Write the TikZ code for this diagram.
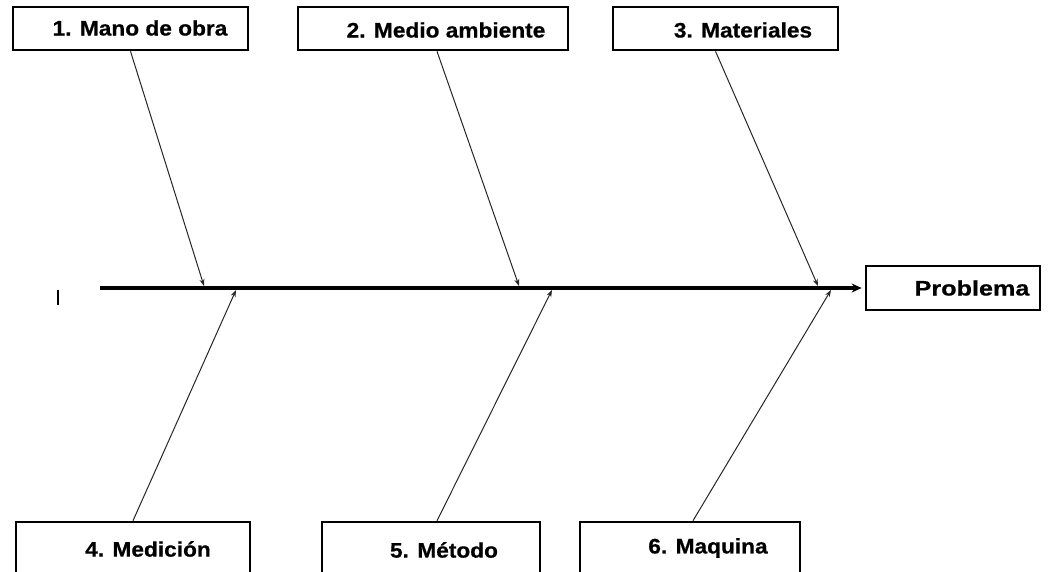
\documentclass[tikz,border=0pt]{standalone}
\usepackage{fontspec}
\setmainfont{Liberation Sans}[BoldFont={Liberation Sans Bold}, BoldFeatures={FakeBold=0.6}]
\usetikzlibrary{arrows.meta,calc}
\newcommand{\lbltext}[2][1.08]{\scalebox{#1}[1]{\bfseries #2}}
\tikzset{
  causebox/.style={draw=black, line width=2.6pt, rectangle, inner sep=0pt},
  lbl/.style={inner sep=0pt, font=\fontsize{21}{24}\selectfont},
  bone/.style={draw=black!85, line width=1pt, -{Stealth[length=7pt,width=5pt]}},
  spine/.style={draw=black, line width=3.2pt, -{Stealth[length=10pt,width=9pt]}}
}
\begin{document}
\begin{tikzpicture}[x=1pt,y=-1pt]
  \useasboundingbox (0,0) rectangle (1052,571);
  \clip (0,0) rectangle (1052,571);
  % cause boxes, top row
  \node[causebox, minimum width=235pt, minimum height=43pt] (b1) at (130.5,28.5) {};
  \node[causebox, minimum width=270pt, minimum height=43pt] (b2) at (433,28.5) {};
  \node[causebox, minimum width=225pt, minimum height=43pt] (b3) at (725.5,28.5) {};
  % cause boxes, bottom row (they run past the lower edge)
  \node[causebox, minimum width=234pt, minimum height=60pt] (b4) at (133,552) {};
  \node[causebox, minimum width=218pt, minimum height=60pt] (b5) at (431,552) {};
  \node[causebox, minimum width=220pt, minimum height=60pt] (b6) at (690,552) {};
  % effect box
  \node[causebox, minimum width=174pt, minimum height=44pt] (prob) at (953,288) {};
  % labels
  \node[lbl] (l1) at (140,28) {\lbltext{1. Mano de obra}};
  \node[lbl] (l2) at (446,30) {\lbltext{2. Medio ambiente}};
  \node[lbl] (l3) at (743,30) {\lbltext{3. Materiales}};
  \node[lbl] (l4) at (148,549) {\lbltext{4. Medición}};
  \node[lbl] (l5) at (444,550) {\lbltext{5. Método}};
  \node[lbl] (l6) at (708,548) {\lbltext{6. Maquina}};
  \node[lbl] (lp) at (972,288) {\lbltext[1.2]{Problema}};
  % spine
  \coordinate (tail) at (100,288);
  \draw[spine] (tail) -- ($(prob.west)+(-3,0)$);
  % points where the bones meet the spine
  \coordinate (t1) at (204,286);
  \coordinate (t2) at (519,286);
  \coordinate (t3) at (818,286);
  \coordinate (u4) at (236,290);
  \coordinate (u5) at (552,290);
  \coordinate (u6) at (831,290);
  % bones
  \draw[bone] ($(b1.south)+(0,0)$) -- (t1);
  \draw[bone] ($(b2.south)+(4,0)$) -- (t2);
  \draw[bone] ($(b3.south)+(-10,0)$) -- (t3);
  \draw[bone] ($(b4.north)+(0,0)$) -- (u4);
  \draw[bone] ($(b5.north)+(6,0)$) -- (u5);
  \draw[bone] ($(b6.north)+(3,0)$) -- (u6);
  % small stray mark left of the spine
  \draw[line width=1.3pt] (58,290) -- (58,305);
\end{tikzpicture}
\end{document}
